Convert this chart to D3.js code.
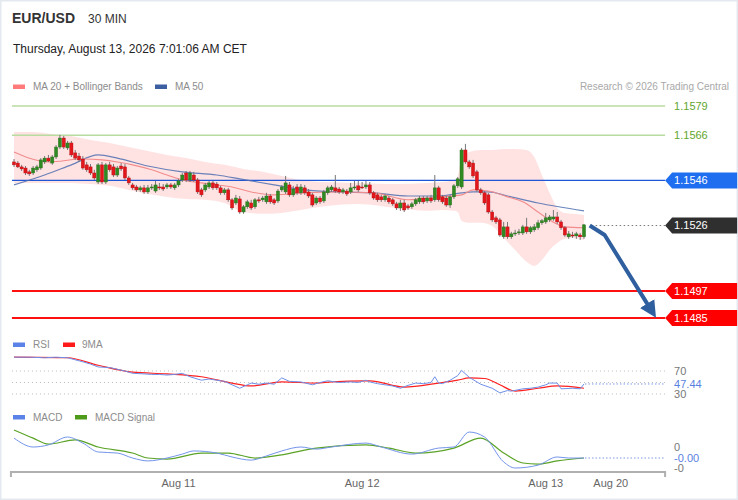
<!DOCTYPE html>
<html><head><meta charset="utf-8">
<script src="https://cdn.jsdelivr.net/npm/d3@7"></script>
<style>body{margin:0;background:#fff;} svg{display:block;font-family:"Liberation Sans",Arial,sans-serif;}</style>
</head><body><svg id="c" width="738" height="500"></svg>
<script>
// ---- DATA ----
// candles: [open, high, low, close], 30-minute bars
const candles = [
[1.15542,1.15555,1.15520,1.15529],[1.15537,1.15546,1.15515,1.15520],[1.15520,1.15529,1.15502,1.15511],[1.15515,1.15524,1.15484,1.15493],
[1.15498,1.15507,1.15480,1.15489],[1.15493,1.15524,1.15484,1.15515],[1.15507,1.15529,1.15498,1.15520],[1.15515,1.15559,1.15507,1.15551],
[1.15542,1.15568,1.15533,1.15559],[1.15559,1.15573,1.15542,1.15546],[1.15537,1.15573,1.15529,1.15564],[1.15564,1.15617,1.15555,1.15608],
[1.15608,1.15662,1.15599,1.15648],[1.15648,1.15657,1.15599,1.15608],[1.15604,1.15635,1.15595,1.15626],[1.15626,1.15635,1.15564,1.15573],
[1.15582,1.15595,1.15551,1.15559],[1.15568,1.15582,1.15542,1.15551],[1.15555,1.15568,1.15507,1.15515],[1.15529,1.15542,1.15498,1.15507],
[1.15520,1.15533,1.15484,1.15493],[1.15493,1.15507,1.15462,1.15471],[1.15453,1.15537,1.15444,1.15529],[1.15529,1.15542,1.15444,1.15453],
[1.15453,1.15537,1.15444,1.15529],[1.15529,1.15542,1.15498,1.15507],[1.15520,1.15533,1.15475,1.15484],[1.15484,1.15524,1.15475,1.15515],
[1.15524,1.15537,1.15502,1.15511],[1.15520,1.15533,1.15462,1.15471],[1.15471,1.15480,1.15440,1.15449],[1.15440,1.15449,1.15418,1.15427],
[1.15431,1.15440,1.15409,1.15418],[1.15418,1.15436,1.15409,1.15427],[1.15427,1.15440,1.15400,1.15409],[1.15409,1.15440,1.15400,1.15427],
[1.15427,1.15444,1.15418,1.15431],[1.15413,1.15458,1.15405,1.15440],[1.15431,1.15449,1.15418,1.15429],[1.15431,1.15444,1.15413,1.15422],
[1.15431,1.15449,1.15422,1.15440],[1.15440,1.15449,1.15422,1.15431],[1.15427,1.15449,1.15418,1.15440],[1.15440,1.15467,1.15431,1.15458],
[1.15462,1.15493,1.15453,1.15484],[1.15493,1.15502,1.15453,1.15462],[1.15462,1.15502,1.15453,1.15493],[1.15484,1.15498,1.15453,1.15462],
[1.15462,1.15471,1.15400,1.15409],[1.15418,1.15427,1.15387,1.15396],[1.15418,1.15449,1.15409,1.15440],[1.15431,1.15458,1.15422,1.15449],
[1.15449,1.15458,1.15418,1.15427],[1.15444,1.15453,1.15418,1.15427],[1.15427,1.15436,1.15396,1.15405],[1.15405,1.15427,1.15396,1.15418],
[1.15418,1.15427,1.15365,1.15374],[1.15374,1.15382,1.15329,1.15338],[1.15360,1.15396,1.15351,1.15382],[1.15378,1.15391,1.15312,1.15320],
[1.15320,1.15351,1.15312,1.15343],[1.15343,1.15374,1.15334,1.15365],[1.15360,1.15374,1.15329,1.15338],[1.15343,1.15382,1.15334,1.15374],
[1.15374,1.15387,1.15360,1.15369],[1.15374,1.15391,1.15365,1.15382],[1.15365,1.15405,1.15356,1.15391],[1.15391,1.15400,1.15356,1.15365],
[1.15374,1.15382,1.15351,1.15360],[1.15369,1.15422,1.15360,1.15413],[1.15418,1.15440,1.15409,1.15431],[1.15409,1.15480,1.15400,1.15449],
[1.15440,1.15453,1.15387,1.15396],[1.15396,1.15436,1.15387,1.15422],[1.15431,1.15444,1.15396,1.15405],[1.15405,1.15444,1.15396,1.15431],
[1.15427,1.15440,1.15396,1.15405],[1.15409,1.15422,1.15382,1.15391],[1.15396,1.15405,1.15343,1.15351],[1.15360,1.15391,1.15351,1.15382],
[1.15382,1.15391,1.15356,1.15365],[1.15369,1.15418,1.15360,1.15409],[1.15405,1.15436,1.15396,1.15427],[1.15418,1.15440,1.15409,1.15431],
[1.15427,1.15484,1.15405,1.15413],[1.15422,1.15431,1.15400,1.15409],[1.15409,1.15427,1.15400,1.15418],[1.15413,1.15422,1.15391,1.15400],
[1.15409,1.15449,1.15400,1.15427],[1.15427,1.15458,1.15418,1.15431],[1.15436,1.15458,1.15409,1.15418],[1.15431,1.15453,1.15422,1.15427],
[1.15431,1.15458,1.15422,1.15440],[1.15440,1.15453,1.15396,1.15405],[1.15405,1.15413,1.15374,1.15382],[1.15396,1.15405,1.15365,1.15374],
[1.15387,1.15396,1.15365,1.15374],[1.15374,1.15400,1.15365,1.15391],[1.15382,1.15391,1.15356,1.15365],[1.15374,1.15382,1.15347,1.15356],
[1.15356,1.15365,1.15329,1.15338],[1.15338,1.15374,1.15325,1.15360],[1.15360,1.15374,1.15320,1.15329],[1.15347,1.15356,1.15329,1.15338],
[1.15343,1.15365,1.15334,1.15356],[1.15356,1.15382,1.15347,1.15374],[1.15365,1.15391,1.15356,1.15382],[1.15382,1.15391,1.15356,1.15365],
[1.15369,1.15391,1.15360,1.15382],[1.15382,1.15396,1.15360,1.15369],[1.15374,1.15484,1.15365,1.15427],[1.15427,1.15436,1.15365,1.15374],
[1.15387,1.15396,1.15356,1.15365],[1.15382,1.15391,1.15343,1.15351],[1.15351,1.15396,1.15338,1.15387],[1.15387,1.15444,1.15378,1.15436],
[1.15436,1.15475,1.15427,1.15467],[1.15431,1.15604,1.15422,1.15595],[1.15595,1.15622,1.15533,1.15542],[1.15542,1.15551,1.15511,1.15520],
[1.15537,1.15551,1.15471,1.15480],[1.15498,1.15507,1.15409,1.15418],[1.15418,1.15427,1.15396,1.15405],[1.15405,1.15413,1.15351,1.15360],
[1.15396,1.15405,1.15312,1.15320],[1.15320,1.15329,1.15276,1.15285],[1.15294,1.15303,1.15267,1.15276],[1.15285,1.15294,1.15210,1.15218],
[1.15210,1.15276,1.15201,1.15254],[1.15254,1.15276,1.15201,1.15210],[1.15210,1.15232,1.15201,1.15223],[1.15223,1.15241,1.15214,1.15227],
[1.15227,1.15245,1.15218,1.15232],[1.15227,1.15263,1.15218,1.15254],[1.15254,1.15294,1.15223,1.15232],[1.15232,1.15258,1.15223,1.15250],
[1.15241,1.15267,1.15232,1.15254],[1.15250,1.15285,1.15241,1.15272],[1.15272,1.15289,1.15263,1.15281],[1.15276,1.15316,1.15267,1.15294],
[1.15285,1.15307,1.15276,1.15298],[1.15289,1.15329,1.15281,1.15298],[1.15298,1.15320,1.15267,1.15276],[1.15276,1.15285,1.15241,1.15250],
[1.15250,1.15258,1.15210,1.15218],[1.15210,1.15236,1.15201,1.15223],[1.15218,1.15232,1.15205,1.15214],[1.15214,1.15232,1.15201,1.15223],
[1.15218,1.15227,1.15196,1.15210],[1.15210,1.15267,1.15201,1.15263]
];
// MA20 [bar index, price]
const ma20 = [[0,1.15586],[9,1.15542],[18,1.15555],[23,1.15551],[27,1.15542],[31,1.15529],[36,1.15507],[40,1.15484],[44,1.15462],[49,1.15449],[53,1.15440],[57,1.15431],[62,1.15409],[68,1.15396],[76,1.15405],[85,1.15409],[94,1.15405],[103,1.15374],[111,1.15387],[117,1.15396],[120,1.15418],[124,1.15413],[129,1.15387],[133,1.15365],[137,1.15320],[140,1.15285],[144,1.15254],[149,1.15250]];
// Bollinger bands at common bar indices
const bbIndex = [0,5,10,15,20,25,30,35,40,45,50,55,60,65,70,75,80,90,100,108,112,115,116,117,119,122,125,128,131,134,136,138,140,142,144,146,149];
const bbUpper = [1.15675,1.15675,1.15666,1.15657,1.15639,1.15626,1.15608,1.15591,1.15573,1.15559,1.15542,1.15529,1.15511,1.15498,1.15480,1.15462,1.15453,1.15449,1.15444,1.15449,1.15453,1.15462,1.15480,1.15559,1.15586,1.15595,1.15595,1.15599,1.15599,1.15595,1.15564,1.15484,1.15405,1.15338,1.15316,1.15312,1.15307];
const bbLower = [1.15449,1.15449,1.15449,1.15449,1.15444,1.15436,1.15418,1.15400,1.15387,1.15378,1.15374,1.15360,1.15320,1.15312,1.15316,1.15329,1.15343,1.15356,1.15338,1.15325,1.15329,1.15325,1.15320,1.15281,1.15272,1.15272,1.15258,1.15205,1.15152,1.15099,1.15081,1.15107,1.15152,1.15183,1.15201,1.15205,1.15196];
const ma50 = [[0,1.15440],[8,1.15484],[15,1.15529],[22,1.15573],[27,1.15559],[35,1.15524],[44,1.15498],[53,1.15484],[59,1.15467],[62,1.15458],[68,1.15440],[76,1.15418],[85,1.15409],[94,1.15405],[103,1.15391],[111,1.15391],[117,1.15405],[120,1.15409],[124,1.15409],[129,1.15391],[137,1.15360],[149,1.15325]];
// RSI and its 9MA [bar index, value]
const rsi = [[0,94],[4,94],[8,93],[11,94],[14,93],[18,86],[20,82],[22,77],[25,76],[27,73],[29,70],[31,66],[34,65],[36,64],[38,64],[40,63],[42,64],[44,66],[46,60],[49,54],[51,56],[53,54],[55,52],[57,46],[59,40],[61,46],[62,49],[64,47],[66,49],[68,47],[70,58],[72,52],[75,51],[78,46],[80,50],[82,53],[85,50],[88,51],[90,50],[92,54],[93,51],[95,48],[97,46],[99,44],[101,40],[103,45],[105,49],[107,48],[109,50],[110,60],[111,49],[112,48],[114,54],[116,62],[117,71],[119,59],[122,47],[125,40],[127,32],[129,36],[130,35],[133,39],[135,40],[137,42],[139,46],[140,49],[142,49],[143,39],[146,40],[148,39],[149,47.44]];
const rsiMa = [[0,94],[14,93],[22,80],[31,68],[40,65],[49,60],[57,49],[62,44],[70,51],[79,49],[83,51],[92,53],[93,53],[102,42],[111,49],[116,54],[119,58],[123,57],[127,46],[131,35],[137,40],[142,44],[149,40]];
// MACD and signal [bar index, value]
const macd = [[0,0.00074],[5,0.0004],[9,0.00048],[14,0.00078],[18,0.00055],[22,0.00021],[27,0.00017],[31,-0.00002],[35,-0.00013],[40,-0.00002],[44,0.00013],[47,0.00025],[53,0.00017],[57,0.00002],[62,-0.0001],[66,0.00006],[70,0.00025],[75,0.0004],[79,0.00032],[83,0.0004],[92,0.00055],[96,0.0004],[104,0.00013],[111,0.00036],[115,0.0004],[119,0.00097],[123,0.00078],[128,-0.00017],[131,-0.0004],[137,-0.00029],[142,0.00002],[145,-0.00002],[149,-0.00002]];
const macdSignal = [[0,0.00105],[5,0.00074],[9,0.00051],[16,0.00067],[22,0.0004],[31,0.00017],[35,-0.00002],[40,-0.00006],[49,0.00017],[56,0.00017],[63,-0.00002],[70,0.0001],[79,0.00036],[92,0.00048],[98,0.00036],[105,0.00017],[115,0.00036],[122,0.00074],[128,0.00017],[133,-0.00021],[137,-0.00025],[142,-0.00013],[149,-0.00002]];
// key levels
const levelPrices = [1.1579, 1.1566, 1.1546, 1.1526, 1.1497, 1.1485];
const levelKinds  = ["green","green","pivot","last","red","red"];
// forecast arrow [bar index, price]
const arrowIdx = [150.5, 154.4, 166.2];
const arrowPrice = [1.1526, 1.15218, 1.14895];
// time axis
const tickIdx = [43, 91, 139, 156];
const tickLabels = ["Aug 11","Aug 12","Aug 13","Aug 20"];
const rsiGrid = [70, 50, 30];
const rsiTickLabels = ["70","30"];
const rsiTickVals = [70, 30];
const macdTickVals = [0.0004, -0.0004];
const macdTickLabels = ["0","-0"];

// ---- DRAW ----
const svg = d3.select("#c");
const W = 738, H = 500;
svg.append("rect").attr("x",0.5).attr("y",0.5).attr("width",W-1).attr("height",H-1).attr("fill","#fff").attr("stroke","#e4e9ef").attr("stroke-width",2);

const x = d3.scaleLinear().domain([0, 149]).range([14, 584]);
const axisEnd = 170.2, axisStart = -0.8;
const yP = d3.scaleLinear().domain([1.1485, 1.1579]).range([318, 106]);
const yR = d3.scaleLinear().domain([30, 70]).range([394, 371]);
const yM = d3.scaleLinear().domain([-0.0004, 0.0004]).range([468, 447]);
const xL = x(axisStart), xR = x(axisEnd);

// header
svg.append("text").attr("x",12).attr("y",23).attr("font-size",14).attr("font-weight","bold").attr("fill","#333").text("EUR/USD");
svg.append("text").attr("x",88).attr("y",23).attr("font-size",12).attr("fill","#333").text("30 MIN");
svg.append("text").attr("x",13).attr("y",53).attr("font-size",12).attr("fill","#222").text("Thursday, August 13, 2026 7:01:06 AM CET");

function legend(items, yc){
  items.forEach(it=>{
    svg.append("rect").attr("x",it.sx).attr("y",yc-2).attr("width",12).attr("height",4.5).attr("fill",it.color);
    svg.append("text").attr("x",it.tx).attr("y",yc).attr("dy","0.35em").attr("font-size",10).attr("fill","#8c8c8c").text(it.label);
  });
}
legend([{sx:13,tx:33,color:"#ff7b7b",label:"MA 20 + Bollinger Bands"},{sx:155,tx:175,color:"#3b5fa0",label:"MA 50"}], 86.5);
svg.append("text").attr("x",729).attr("y",86.5).attr("dy","0.35em").attr("text-anchor","end").attr("font-size",10).attr("fill","#a8a8a8").text("Research \u00a9 2026 Trading Central");

// bollinger band area
const bb = bbIndex.map((d,i)=>({i:d,u:bbUpper[i],l:bbLower[i]}));
svg.append("path").datum(bb).attr("fill","#ffdede").attr("opacity",0.85)
  .attr("d", d3.area().x(d=>x(d.i)).y0(d=>yP(d.l)).y1(d=>yP(d.u)).curve(d3.curveMonotoneX));

// level lines
const levelColor = {green:"#b8dba0", pivot:"#1f56d6", red:"#ff1010"};
levelPrices.forEach((p,k)=>{
  const kind = levelKinds[k];
  if(kind==="last"){
    svg.append("line").attr("x1",x(151)).attr("x2",xR).attr("y1",yP(p)).attr("y2",yP(p))
      .attr("stroke","#777").attr("stroke-width",1).attr("stroke-dasharray","1.5,2.5");
  } else {
    svg.append("line").attr("x1",xL+1).attr("x2",xR).attr("y1",yP(p)).attr("y2",yP(p))
      .attr("stroke",levelColor[kind]).attr("stroke-width", kind==="red"?2:(kind==="green"?1.5:1.3));
  }
});

// MA lines
const line = d3.line().x(d=>x(d[0])).y(d=>yP(d[1])).curve(d3.curveMonotoneX);
svg.append("path").datum(ma50).attr("fill","none").attr("stroke","#4f6fb0").attr("stroke-opacity",0.85).attr("stroke-width",1.2).attr("d",line);
svg.append("path").datum(ma20).attr("fill","none").attr("stroke","#f28c8c").attr("stroke-width",1.1).attr("d",line);

// candles
const g = svg.append("g");
candles.forEach((c,i)=>{
  const [o,h,l,cl] = c;
  const up = cl >= o;
  const cx = x(i);
  g.append("line").attr("x1",cx).attr("x2",cx).attr("y1",yP(h)).attr("y2",yP(l)).attr("stroke","#777").attr("stroke-width",1);
  const top = yP(Math.max(o,cl)), bot = yP(Math.min(o,cl));
  g.append("rect").attr("x",cx-1.6).attr("y",top).attr("width",3.2).attr("height",Math.max(1,bot-top))
    .attr("fill", up?"#2f8a22":"#e3161b").attr("stroke", up?"#2a6e20":"#b01015").attr("stroke-width",0.4);
});

// forecast arrow
svg.append("defs").append("marker").attr("id","ah").attr("viewBox","0 0 10 10").attr("refX",3).attr("refY",5)
  .attr("markerWidth",4.2).attr("markerHeight",4.2).attr("orient","auto").attr("markerUnits","strokeWidth")
  .append("path").attr("d","M0,0 L10,5 L0,10 z").attr("fill","#2f5f9f");
svg.append("path").datum(arrowIdx.map((d,i)=>[d,arrowPrice[i]])).attr("fill","none").attr("stroke","#2f5f9f")
  .attr("stroke-width",4).attr("stroke-linejoin","round").attr("marker-end","url(#ah)")
  .attr("d", d3.line().x(d=>x(d[0])).y(d=>yP(d[1])));

// level tags
const tagFill = {green:null, pivot:"#1f6ef0", last:"#2f2f2f", red:"#ff0000"};
levelPrices.forEach((p,k)=>{
  const kind = levelKinds[k], yc = yP(p), x0 = xR;
  const label = p.toFixed(4);
  if(kind==="green"){
    svg.append("text").attr("x",x0+9).attr("y",yc).attr("dy","0.36em").attr("font-size",11).attr("fill","#62a62e").text(label);
  } else {
    svg.append("path").attr("d",`M${x0},${yc} L${x0+7},${yc-8} L${x0+72},${yc-8} L${x0+72},${yc+8} L${x0+7},${yc+8} Z`).attr("fill",tagFill[kind]);
    svg.append("text").attr("x",x0+9).attr("y",yc).attr("dy","0.36em").attr("font-size",11).attr("fill","#fff").text(label);
  }
});

// ---- RSI panel ----
legend([{sx:13,tx:33,color:"#5b82e6",label:"RSI"},{sx:63,tx:82,color:"#ff1a1a",label:"9MA"}], 344.5);
rsiGrid.forEach(v=>{
  svg.append("line").attr("x1",xL+1).attr("x2",xR).attr("y1",yR(v)).attr("y2",yR(v)).attr("stroke","#bdbdbd").attr("stroke-width",1).attr("stroke-dasharray","1,3");
});
const lr = d3.line().x(d=>x(d[0])).y(d=>yR(d[1]));
svg.append("path").datum(rsiMa).attr("fill","none").attr("stroke","#ff2020").attr("stroke-width",1.2).attr("d",lr.curve(d3.curveMonotoneX));
svg.append("path").datum(rsi).attr("fill","none").attr("stroke","#6f90e8").attr("stroke-width",1).attr("d",d3.line().x(d=>x(d[0])).y(d=>yR(d[1])));
const lastR = rsi[rsi.length-1];
svg.append("line").attr("x1",x(lastR[0])+1).attr("x2",xR).attr("y1",yR(lastR[1])).attr("y2",yR(lastR[1])).attr("stroke","#7f9be8").attr("stroke-width",1).attr("stroke-dasharray","1.5,2");
rsiTickVals.forEach((v,k)=>{
  svg.append("text").attr("x",xR+9).attr("y",yR(v)).attr("dy","0.36em").attr("font-size",11).attr("fill","#777").text(rsiTickLabels[k]);
});
svg.append("rect").attr("x",xR+7).attr("y",yR(lastR[1])-6).attr("width",32).attr("height",11).attr("fill","#fff");
svg.append("text").attr("x",xR+9).attr("y",yR(lastR[1])).attr("dy","0.36em").attr("font-size",11).attr("fill","#5a7fe0").text(lastR[1].toFixed(2));

// ---- MACD panel ----
legend([{sx:13,tx:33,color:"#5b82e6",label:"MACD"},{sx:75,tx:95,color:"#4e9a19",label:"MACD Signal"}], 417);
const lm = d3.line().x(d=>x(d[0])).y(d=>yM(d[1])).curve(d3.curveMonotoneX);
svg.append("path").datum(macdSignal).attr("fill","none").attr("stroke","#5aa326").attr("stroke-width",1.2).attr("d",lm);
svg.append("path").datum(macd).attr("fill","none").attr("stroke","#7394ea").attr("stroke-width",1).attr("d",lm);
const lastM = macd[macd.length-1];
svg.append("line").attr("x1",x(lastM[0])+1).attr("x2",xR).attr("y1",yM(lastM[1])).attr("y2",yM(lastM[1])).attr("stroke","#7f9be8").attr("stroke-width",1).attr("stroke-dasharray","1.5,2");
macdTickVals.forEach((v,k)=>{
  svg.append("text").attr("x",xR+9).attr("y",yM(v)).attr("dy","0.36em").attr("font-size",11).attr("fill","#777").text(macdTickLabels[k]);
});
svg.append("rect").attr("x",xR+7).attr("y",yM(lastM[1])-6).attr("width",34).attr("height",11).attr("fill","#fff");
svg.append("text").attr("x",xR+9).attr("y",yM(lastM[1])).attr("dy","0.36em").attr("font-size",11).attr("fill","#5a7fe0").text("-0.00");

// ---- time axis ----
const axY = 472;
svg.append("path").attr("d",`M${xL},${axY+5} L${xL},${axY} L${xR},${axY} L${xR},${axY+5}`).attr("fill","none").attr("stroke","#b0b0b0").attr("stroke-width",2);
tickIdx.forEach((t,k)=>{
  svg.append("text").attr("x",x(t)).attr("y",487).attr("text-anchor","middle").attr("font-size",11).attr("fill","#666").text(tickLabels[k]);
});
</script></body></html>
